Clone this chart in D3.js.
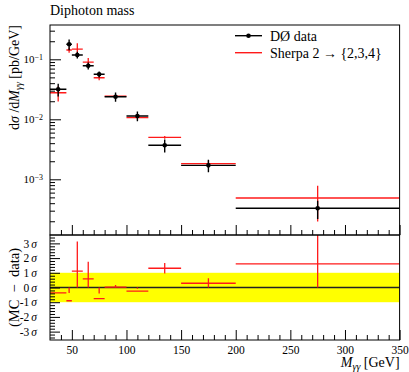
<!DOCTYPE html>
<html>
<head>
<meta charset="utf-8">
<script src="https://d3js.org/d3.v7.min.js"></script>
<style>
body { margin: 0; background: #fff; }
svg text { font-family: "Liberation Serif", "Times New Roman", serif; fill: #000; }
</style>
</head>
<body>
<svg id="chart" width="409" height="372"></svg>
<script>
// bins in M_gamma-gamma [GeV]
var binLo  = [30, 45, 50, 60, 70, 80, 100, 120, 150, 200];
var binHi  = [45, 50, 60, 70, 80, 100, 120, 150, 200, 350];
var binMid = [37.5, 47.5, 55, 65, 75, 90, 110, 135, 175, 275];

// D0 data, dsigma/dM [pb/GeV]
var dataVal = [0.0316, 0.178, 0.118, 0.0782, 0.0562, 0.0238, 0.01135, 0.00369, 0.00171, 0.000329];
var dataErr = [0.0077, 0.036, 0.015, 0.0105, 0.0064, 0.0042, 0.0021, 0.0009, 0.0004, 0.00011];

// Sherpa 2 -> {2,3,4}
var mcVal = [0.0277, 0.143, 0.148, 0.090, 0.0493, 0.0244, 0.01064, 0.00501, 0.00182, 0.000488];
var mcErr = [0.0078, 0.015, 0.037, 0.015, 0.0045, 0.001, 0.0006, 0.00025, 0.00024, 0.00029];

// (MC - data) in sigma
var devVal = [-0.37, -0.9, 1.12, 0.58, -0.76, 0.02, -0.24, 1.31, 0.29, 1.6];
var devErr = [0.36, 0.53, 2.0, 1.17, 0.35, 0.15, 0.15, 0.36, 0.34, 2.97];

var xTicks = [50, 100, 150, 200, 250, 300, 350];
var yTicks = [1e-3, 1e-2, 1e-1];
var sigmaTicks = [-3, -2, -1, 0, 1, 2, 3];

var svg = d3.select("#chart"),
    pLeft = 50, pRight = 399.6, pTop = 25, pMid = 235, pBottom = 340;

var x = d3.scaleLinear().domain([30, 350]).range([pLeft, pRight]);
var y = d3.scaleLog().domain([1.18e-4, 0.373]).range([pMid, pTop]);
var r = d3.scaleLinear().domain([-3.57, 3.57]).range([pBottom, pMid]);

svg.append("defs").append("clipPath").attr("id", "clipMain")
  .append("rect").attr("x", pLeft).attr("y", pTop).attr("width", pRight - pLeft).attr("height", pMid - pTop);
svg.select("defs").append("clipPath").attr("id", "clipRatio")
  .append("rect").attr("x", pLeft).attr("y", pMid).attr("width", pRight - pLeft).attr("height", pBottom - pMid);

// title
svg.append("text").attr("x", 50).attr("y", 15).attr("font-size", 14).text("Diphoton mass");

// ---- ratio background
var gr = svg.append("g").attr("clip-path", "url(#clipRatio)");
gr.append("rect")
  .attr("x", pLeft).attr("width", pRight - pLeft)
  .attr("y", r(1)).attr("height", r(-1) - r(1))
  .style("fill", "#ffff00");
gr.append("line")
  .attr("x1", pLeft).attr("x2", pRight).attr("y1", r(0)).attr("y2", r(0))
  .style("stroke", "#222").style("stroke-width", 1.3);

// ---- axes
var minorX = d3.range(40, 350, 10).filter(function(v) { return v % 50 != 0; });

function xAxisAt(yPos, labels) {
  svg.append("g").attr("transform", "translate(0," + yPos + ")")
    .call(d3.axisBottom(x).tickValues(xTicks).tickSize(-10).tickPadding(6)
      .tickFormat(labels ? d3.format("d") : ""))
    .call(function(g) { g.select(".domain").remove(); })
    .call(function(g) { g.selectAll("text").attr("font-size", 11.5).style("font-family", "Liberation Serif"); });
  svg.append("g").attr("transform", "translate(0," + yPos + ")")
    .call(d3.axisBottom(x).tickValues(minorX).tickSize(-5).tickFormat(""))
    .call(function(g) { g.select(".domain").remove(); });
}
xAxisAt(pMid, false);
xAxisAt(pBottom, true);

// main y axis (log)
var minorY = [];
[1e-4, 1e-3, 1e-2, 1e-1].forEach(function(dec) {
  for (var k = 2; k <= 9; k++) {
    var v = dec * k;
    if (v > 1.18e-4 && v < 0.373) minorY.push(v);
  }
});
svg.append("g").attr("transform", "translate(" + pLeft + ",0)")
  .call(d3.axisLeft(y).tickValues(yTicks).tickSize(-11).tickPadding(7))
  .call(function(g) { g.select(".domain").remove(); })
  .call(function(g) {
    g.selectAll(".tick text").each(function(d) {
      var t = d3.select(this);
      t.text(null).attr("font-size", 11).style("font-family", "Liberation Serif");
      t.append("tspan").text("10");
      t.append("tspan").attr("dy", "-0.45em").attr("font-size", "0.72em").text("\u2212" + Math.round(-Math.log10(d)));
    });
  });
svg.append("g").attr("transform", "translate(" + pLeft + ",0)")
  .call(d3.axisLeft(y).tickValues(minorY).tickSize(-5).tickFormat(""))
  .call(function(g) { g.select(".domain").remove(); });

// ratio y axis
var minorS = d3.range(-3.4, 3.5, 0.2).filter(function(v) { return Math.abs(v - Math.round(v)) > 0.05; });
svg.append("g").attr("transform", "translate(" + pLeft + ",0)")
  .call(d3.axisLeft(r).tickValues(sigmaTicks).tickSize(-10).tickPadding(13))
  .call(function(g) { g.select(".domain").remove(); })
  .call(function(g) {
    g.selectAll(".tick text").each(function(d) {
      var t = d3.select(this);
      t.text(null).attr("font-size", 11.5).style("font-family", "Liberation Serif");
      t.append("tspan").text((d < 0 ? "-" : "") + Math.abs(d));
      t.append("tspan").attr("dx", 2).style("font-style", "italic").text("\u03c3");
    });
  });
svg.append("g").attr("transform", "translate(" + pLeft + ",0)")
  .call(d3.axisLeft(r).tickValues(minorS).tickSize(-5).tickFormat(""))
  .call(function(g) { g.select(".domain").remove(); });

svg.selectAll(".tick line").style("stroke", "#000").style("stroke-width", 1);

// ---- main panel marks
var gm = svg.append("g").attr("clip-path", "url(#clipMain)");
var idx = d3.range(binMid.length);

function crosses(g, yScale, val, err, color, width) {
  g.selectAll(null).data(idx).enter().append("line")
    .attr("x1", function(i) { return x(binLo[i]); })
    .attr("x2", function(i) { return x(binHi[i]); })
    .attr("y1", function(i) { return yScale(val[i]); })
    .attr("y2", function(i) { return yScale(val[i]); })
    .style("stroke", color).style("stroke-width", width);
  g.selectAll(null).data(idx).enter().append("line")
    .attr("x1", function(i) { return x(binMid[i]); })
    .attr("x2", function(i) { return x(binMid[i]); })
    .attr("y1", function(i) { return yScale(Math.max(val[i] - err[i], 1e-9)); })
    .attr("y2", function(i) { return yScale(val[i] + err[i]); })
    .style("stroke", color).style("stroke-width", width);
}

crosses(gm, y, mcVal, mcErr, "#ff1a1a", 1.3);
crosses(gm, y, dataVal, dataErr, "#000", 1.4);
gm.selectAll(".pt").data(idx).enter().append("circle")
  .attr("class", "pt")
  .attr("cx", function(i) { return x(binMid[i]); })
  .attr("cy", function(i) { return y(dataVal[i]); })
  .attr("r", 2.3).style("fill", "#000");

// ---- ratio marks
crosses(gr, r, devVal, devErr, "#ff1a1a", 1.3);

// ---- frames
svg.append("rect").attr("x", pLeft).attr("y", pTop).attr("width", pRight - pLeft).attr("height", pMid - pTop)
  .style("fill", "none").style("stroke", "#000").style("stroke-width", 1);
svg.append("rect").attr("x", pLeft).attr("y", pMid).attr("width", pRight - pLeft).attr("height", pBottom - pMid)
  .style("fill", "none").style("stroke", "#000").style("stroke-width", 1);

// ---- legend
var lg = svg.append("g");
lg.append("line").attr("x1", 235).attr("x2", 262).attr("y1", 35.7).attr("y2", 35.7)
  .style("stroke", "#000").style("stroke-width", 1.4);
lg.append("circle").attr("cx", 248.5).attr("cy", 35.7).attr("r", 2.3).style("fill", "#000");
lg.append("text").attr("x", 270).attr("y", 40.5).attr("font-size", 14).text("D\u00d8 data");
lg.append("line").attr("x1", 235).attr("x2", 262).attr("y1", 52.7).attr("y2", 52.7)
  .style("stroke", "#ff1a1a").style("stroke-width", 1.4);
lg.append("text").attr("x", 270).attr("y", 57.5).attr("font-size", 14).text("Sherpa 2 \u2192 {2,3,4}");

// ---- axis labels
var yl = svg.append("text").attr("transform", "translate(19," + pTop + ") rotate(-90)")
  .attr("text-anchor", "end").attr("font-size", 14);
yl.append("tspan").text("d");
yl.append("tspan").style("font-style", "italic").text("\u03c3");
yl.append("tspan").text(" /d");
yl.append("tspan").style("font-style", "italic").text("M");
yl.append("tspan").style("font-style", "italic").attr("font-size", 10).attr("dy", 3).text("\u03b3\u03b3");
yl.append("tspan").attr("dy", -3).text(" [pb/GeV]");

svg.append("text").attr("transform", "translate(19," + ((pMid + pBottom) / 2) + ") rotate(-90)")
  .attr("text-anchor", "middle").attr("font-size", 14.5).text("(MC\u2002\u2212\u2002data)");

var xl = svg.append("text").attr("x", pRight).attr("y", 367).attr("text-anchor", "end").attr("font-size", 14);
xl.append("tspan").style("font-style", "italic").text("M");
xl.append("tspan").style("font-style", "italic").attr("font-size", 10).attr("dy", 3).text("\u03b3\u03b3");
xl.append("tspan").attr("dy", -3).text(" [GeV]");
</script>
</body>
</html>
